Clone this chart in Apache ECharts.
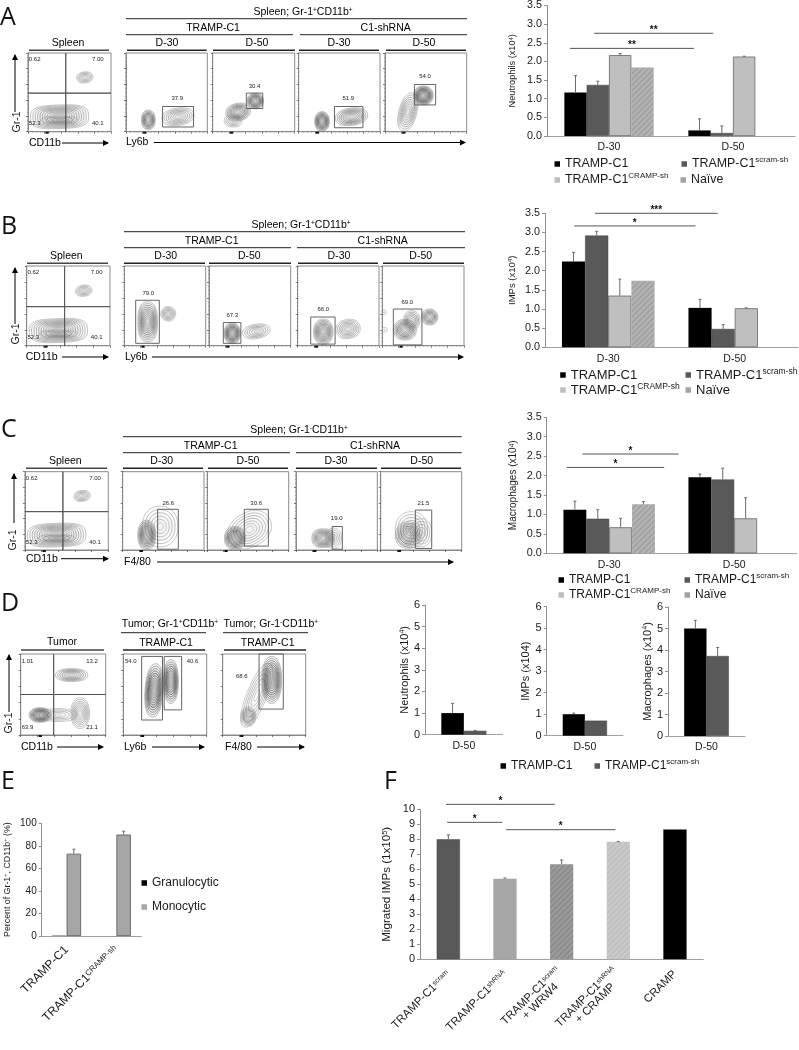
<!DOCTYPE html>
<html><head><meta charset="utf-8">
<style>html,body{margin:0;padding:0;background:#fff}#c{width:799px;height:1050px}</style>
<script src="https://cdn.jsdelivr.net/npm/echarts@6/dist/echarts.min.js"></script>
</head><body><div id="c"></div>
<script>
// ---------- bar chart values ----------
const days = ['D-30', 'D-50'];
const day50 = ['D-50'];
const nTramp = 'TRAMP-C1', nScram = 'TRAMP-C1 scram-sh', nCramp = 'TRAMP-C1 CRAMP-sh', nNaive = 'Naïve';

const aTramp = [1.17, 0.15], aScram = [1.37, 0.08], aCramp = [2.17, 2.13], aNaive = [1.84, null];
const aTrampTop = [1.62, 0.46], aScramTop = [1.47, 0.27], aCrampTop = [2.21, 2.14], aNaiveTop = [1.84, null];
const aBrackets = [[0.185, 1.185, 2.35, '**'], [0.38, 1.34, 2.755, '**']];

const bTramp = [2.24, 1.03], bScram = [2.92, 0.48], bCramp = [1.35, 1.02], bNaive = [1.74, null];
const bTrampTop = [2.48, 1.25], bScramTop = [3.03, 0.59], bCrampTop = [1.78, 1.03], bNaiveTop = [1.74, null];
const bBrackets = [[0.23, 1.19, 3.17, '*'], [0.395, 1.365, 3.5, '***']];

const cTramp = [1.12, 1.96], cScram = [0.89, 1.9], cCramp = [0.67, 0.9], cNaive = [1.26, null];
const cTrampTop = [1.34, 2.04], cScramTop = [1.12, 2.19], cCrampTop = [0.9, 1.43], cNaiveTop = [1.33, null];
const cBrackets = [[0.16, 0.94, 2.21, '*'], [0.285, 1.055, 2.555, '*']];

const d1Tramp = [1.0], d1Scram = [0.18], d1TrampTop = [1.45], d1ScramTop = [0.2];
const d2Tramp = [1.0], d2Scram = [0.7], d2TrampTop = [1.05], d2ScramTop = [0.7];
const d3Tramp = [5.0], d3Scram = [3.72], d3TrampTop = [5.38], d3ScramTop = [4.12];

const eCats = ['{a|TRAMP-C1}', '{a|TRAMP-C1}{s|CRAMP-sh}'];
const eGran = [0.3, null], eMono = [73, 90], eMonoTop = [77, 93], eGranTop = [null, null];

const fCats = ['{a|TRAMP-C1}{s|scram}', '{a|TRAMP-C1}{s|shRNA}', '{a|TRAMP-C1}{s|scram}\n{a|+ WRW4    }', '{a|TRAMP-C1}{s|shRNA}\n{a|+ CRAMP    }', '{a|CRAMP}'];
const fValues = [8, 5.37, 6.33, 7.83, 8.65];
const fTops = [8.3, 5.42, 6.62, 7.85, 8.65];
const fBrackets = [[0.459, 2.38, 10.33, '*'], [0.48, 1.45, 9.13, '*'], [1.52, 3.45, 8.64, '*']];

// ---------- flow panels, in axis units (0-100) ----------
// contour: [cx, cy, rx, ry, rotationDeg, levels, darkness, roundness]
const spleenContours = [[68.5, 69, 10, 7, -8, 6, 0.3], [38, 19, 35, 15, -2, 11, 0.38, 3.2], [38, 15, 22, 5, 0, 4, 0.45]];
const spleenLabels = [[8, 92, '0.62'], [84, 92, '7.00'], [8, 10, '52.3'], [84, 10, '40.1']];
const quadCuts = [[45.5, 45.5, 0, 100], [0, 100, 49, 49]];

const a1Contours = [[27.5, 15, 8.5, 12.5, 0, 8, 0.8], [64, 19, 20, 11, -8, 7, 0.4]];
const a1Gates = [[45, 83, 6, 32]], a1Labels = [[63, 42, '37.9']];
const a2Contours = [[52, 39, 10, 10, 0, 8, 0.9], [31, 25, 15, 11, -10, 8, 0.7], [25, 14, 11, 8, 0, 5, 0.4]];
const a2Gates = [[41, 61, 29.5, 49]], a2Labels = [[51, 58, '30.4']];
const a3Contours = [[28.7, 13, 9, 12.5, 0, 9, 0.85], [65, 19, 20, 11, -8, 8, 0.6]];
const a3Gates = [[44, 79, 5, 32]], a3Labels = [[61, 42, '51.9']];
const a4Contours = [[28, 25, 11, 25, 15, 8, 0.35], [47, 46, 12, 12, 0, 9, 1.05]];
const a4Gates = [[36, 62, 34, 60]], a4Labels = [[49, 70, '54.0']];

const b1Contours = [[28.7, 30, 12, 25, 0, 10, 0.6, 2.6], [54, 40, 9, 9, 20, 6, 0.45]];
const b1Gates = [[14, 43, 3, 57]], b1Labels = [[29.5, 66, '79.0']];
const b2Contours = [[28.5, 15.5, 10, 13, 0, 9, 0.9], [58, 18, 17, 9, -10, 6, 0.4]];
const b2Gates = [[17.5, 39, 3, 29]], b2Labels = [[28.5, 38, '67.3']];
const b3Contours = [[31.5, 17.5, 12, 16, 0, 9, 0.65], [62, 21, 15, 12, -10, 7, 0.4]];
const b3Gates = [[16, 46, 2, 36]], b3Labels = [[31.5, 45.6, '66.0']];
const b4Contours = [[27.7, 20, 14, 13, 0, 8, 0.7], [36, 32, 10, 12, 0, 6, 0.55], [58, 36, 10, 10, 0, 7, 0.7], [3, 20, 3, 3, 0, 2, 0.4], [2, 42, 2.5, 3, 0, 2, 0.4]];
const b4Gates = [[13.5, 48.5, 1, 46]], b4Labels = [[30.6, 55, '69.0']];

const c1Contours = [[46, 30, 22, 26, 0, 6, 0.25], [29.5, 19, 11, 19, 0, 9, 0.75]];
const c1Gates = [[43, 68.4, 1, 52]], c1Labels = [[56, 60, '26.6']];
const c2Contours = [[52, 26, 28, 22, -30, 7, 0.25], [34, 15, 13, 15, 0, 9, 0.75]];
const c2Gates = [[45.5, 75, 5, 52]], c2Labels = [[60, 60, '30.6']];
const c3Contours = [[46, 15, 10, 13, 0, 5, 0.3], [33.6, 15, 14, 12, 0, 9, 0.6, 2.6]];
const c3Gates = [[44.6, 57, 1, 30]], c3Labels = [[50, 40, '19.0']];
const c4Contours = [[50, 22, 13, 18, 0, 5, 0.25], [38, 26, 20, 23, 0, 6, 0.28], [34, 19, 16, 17, 0, 8, 0.55]];
const c4Gates = [[42.8, 63, 2, 51]], c4Labels = [[52.7, 60, '21.5']];

const d1Contours = [[60, 74, 19, 8, 0, 7, 0.5], [44, 24.7, 22, 8, 0, 5, 0.25], [70, 27, 11, 19, 0, 8, 0.3], [23, 24.7, 13, 9, 0, 9, 0.85]];
const d1Labels = [[8, 91, '1.01'], [84, 91, '13.2'], [8, 10, '63.9'], [84, 10, '21.1']];
const d1Cuts = [[38.8, 38.8, 0, 100], [0, 100, 50, 50]];
const d2Contours = [[37, 55, 11, 33, 4, 10, 0.9], [57, 66, 9, 27, 0, 9, 0.9]];
const d2Gates = [[22, 47, 18.5, 97], [49, 70, 31, 97]], d2Labels = [[9, 91, '54.0'], [83, 91, '40.6']];
const d3Contours = [[41, 49, 12, 42, 22, 6, 0.22], [31, 23, 9, 12, 0, 7, 0.5], [59, 68, 12, 29, 0, 10, 0.8]];
const d3Gates = [[43.8, 73, 32, 100]], d3Labels = [[23, 72, '68.6']];

// ---------- helpers ----------
const FONT = '"Liberation Sans", Arial, sans-serif';
const TXT = '#1a1a1a';
const option = { animation: false, backgroundColor: '#fff', grid: [], xAxis: [], yAxis: [], series: [], legend: [], graphic: { elements: [] } };
const hatch = (color, alpha) => ({ color, borderWidth: 0, decal: { symbol: 'rect', rotation: -Math.PI / 4, dashArrayX: [1, 0], dashArrayY: [2, 2], symbolSize: 1, color: `rgba(255,255,255,${alpha})` } });
const styles = {
  black: { color: '#000', borderWidth: 0 },
  dark: { color: '#595959', borderColor: '#444', borderWidth: 0.5 },
  light: { color: '#bfbfbf', borderColor: '#666', borderWidth: 0.8 },
  mid: { color: '#a6a6a6', borderColor: '#555', borderWidth: 0.8 },
  midPlain: { color: '#a6a6a6', borderWidth: 0 },
  hatch: hatch('#a2a2a2', 0.2),
  hatchDark: hatch('#8c8c8c', 0.14),
  hatchLight: hatch('#c0c0c0', 0.16)
};
const rich = (size, sup) => ({ a: { fontSize: size, fontFamily: FONT, color: TXT }, s: { fontSize: sup, fontFamily: FONT, color: TXT, verticalAlign: 'top' } });

function barChart(o) {
  const g = option.grid.length;
  option.grid.push({ left: o.x0, top: o.y0, width: o.x1 - o.x0, height: o.y1 - o.y0 });
  option.xAxis.push({
    type: 'category', gridIndex: g, data: o.cats,
    axisLine: { lineStyle: { color: '#a0a0a0', width: 1 } }, axisTick: { show: false },
    axisLabel: Object.assign({ fontSize: o.catSize || 10.5, fontFamily: FONT, color: TXT, margin: 6, interval: 0 }, o.catLabel || {})
  });
  const xv = option.xAxis.length;
  option.xAxis.push({ type: 'value', gridIndex: g, show: false, min: 0, max: o.cats.length });
  option.yAxis.push({
    type: 'value', gridIndex: g, min: 0, max: o.max, interval: o.step, splitLine: { show: false },
    axisLine: { show: true, lineStyle: { color: '#909090' } }, axisTick: { show: true, length: 3, lineStyle: { color: '#909090' } },
    axisLabel: { fontSize: o.labelSize || 10.8, fontFamily: FONT, color: TXT, margin: 5, formatter: o.fixed ? (v => v.toFixed(1)) : (v => String(v)) },
    name: o.name, nameLocation: 'middle', nameRotate: 90, nameGap: o.nameGap,
    nameTextStyle: { rich: rich(o.nameSize || 10, (o.nameSize || 10) * 0.65) }
  });
  const y = option.yAxis.length - 1, xc = xv - 1;
  const n = o.series.length;
  o.series.forEach(s => {
    option.series.push({ type: 'bar', name: s.name, xAxisIndex: xc, yAxisIndex: y, data: s.data, barWidth: o.bw * 100 + '%', barGap: 0, itemStyle: s.style, silent: true });
  });
  const errs = [];
  o.series.forEach((s, i) => s.top.forEach((t, j) => {
    const raw = s.data[j], v = raw != null && typeof raw === 'object' ? raw.value : raw;
    if (t != null && v != null && t > v) errs.push([j + 0.5 + (i - (n - 1) / 2) * o.bw, v, t]);
  }));
  if (errs.length) option.series.push({
    type: 'custom', xAxisIndex: xv, yAxisIndex: y, data: errs, silent: true, z: 4,
    renderItem(p, api) {
      const d = errs[p.dataIndex], a = api.coord([d[0], d[1]]), b = api.coord([d[0], d[2]]);
      return { type: 'group', children: [
        { type: 'line', shape: { x1: a[0], y1: a[1], x2: b[0], y2: b[1] }, style: { stroke: '#6a6a6a', lineWidth: 1 } },
        { type: 'line', shape: { x1: b[0] - 1.5, y1: b[1], x2: b[0] + 1.5, y2: b[1] }, style: { stroke: '#6a6a6a', lineWidth: 1 } }
      ] };
    }
  });
  if (o.brackets) option.series.push({
    type: 'custom', xAxisIndex: xv, yAxisIndex: y, data: o.brackets, silent: true, z: 5,
    renderItem(p, api) {
      const d = o.brackets[p.dataIndex], a = api.coord([d[0], d[2]]), b = api.coord([d[1], d[2]]);
      return { type: 'group', children: [
        { type: 'line', shape: { x1: a[0], y1: a[1], x2: b[0], y2: b[1] }, style: { stroke: '#555', lineWidth: 1 } },
        { type: 'text', style: { x: (a[0] + b[0]) / 2, y: a[1] - 3, text: d[3], align: 'center', verticalAlign: 'middle', fontSize: 10, fontWeight: 'bold', fontFamily: FONT, fill: '#111' } }
      ] };
    }
  });
}

function flowPanel(x0, x1, y0, y1, contours, gates, labels) {
  const g = option.grid.length;
  option.grid.push({ left: x0, top: y0, width: x1 - x0, height: y1 - y0, show: true, borderColor: '#8a8a8a', borderWidth: 1, backgroundColor: '#fff' });
  const ax = () => ({
    type: 'value', gridIndex: g, min: 0, max: 100, interval: 20, splitLine: { show: false }, axisLabel: { show: false },
    axisLine: { show: true, lineStyle: { color: '#8a8a8a', width: 1 } },
    axisTick: { show: true, length: 2, inside: false, lineStyle: { color: '#444', width: 0.7 } },
    minorTick: { show: true, splitNumber: 4, length: 1, lineStyle: { color: '#777', width: 0.5 } }
  });
  option.xAxis.push(ax());
  const xi = option.xAxis.length - 1;
  option.yAxis.push(ax());
  const yi = option.yAxis.length - 1;
  option.series.push({
    type: 'custom', xAxisIndex: xi, yAxisIndex: yi, data: contours.map(c => [c[0], c[1]]), silent: true, z: 2,
    renderItem(p, api) {
      const d = contours[p.dataIndex], c = api.coord([d[0], d[1]]);
      const rx = api.coord([d[0] + d[2], d[1]])[0] - c[0], ry = c[1] - api.coord([d[0], d[1] + d[3]])[1];
      const rot = d[4] * Math.PI / 180, n = d[5], dark = d[6], e = 2 / (d[7] || 2.2), kids = [];
      const pow = (v) => Math.sign(v) * Math.pow(Math.abs(v), e);
      for (let k = 0; k < n; k++) {
        const t = n > 1 ? k / (n - 1) : 0, f = 1 - 0.82 * t, pts = [];
        for (let i = 0; i < 48; i++) {
          const a = i / 48 * Math.PI * 2, ex = rx * f * pow(Math.cos(a)), ey = ry * f * pow(Math.sin(a));
          pts.push([c[0] + ex * Math.cos(rot) - ey * Math.sin(rot), c[1] + ex * Math.sin(rot) + ey * Math.cos(rot)]);
        }
        const inner = 1 - Math.abs(t - 0.45) * 1.6;
        const v = Math.round(Math.max(25, 175 - 150 * dark * Math.max(0.1, inner)));
        kids.push({ type: 'polygon', shape: { points: pts }, style: { stroke: `rgb(${v},${v},${v})`, lineWidth: 0.6, fill: `rgba(70,70,70,${0.04 * dark})` } });
      }
      return { type: 'group', children: kids };
    }
  });
  if (gates && gates.length) option.series.push({
    type: 'custom', xAxisIndex: xi, yAxisIndex: yi, data: gates, silent: true, z: 3,
    renderItem(p, api) {
      const d = gates[p.dataIndex], a = api.coord([d[0], d[3]]), b = api.coord([d[1], d[2]]);
      return { type: 'rect', shape: { x: a[0], y: a[1], width: b[0] - a[0], height: b[1] - a[1] }, style: { stroke: '#555', fill: 'none', lineWidth: 0.9 } };
    }
  });
  option.series.push({
    type: 'custom', xAxisIndex: xi, yAxisIndex: yi, data: labels.map(l => [l[0], l[1]]), silent: true, z: 4,
    renderItem(p, api) {
      const d = labels[p.dataIndex], c = api.coord([d[0], d[1]]);
      return { type: 'text', style: { x: c[0], y: c[1], text: d[2], align: 'center', verticalAlign: 'middle', fontSize: 6, fontFamily: FONT, fill: '#222' } };
    }
  });
  // the instrument's zero marker on the lower axis
  option.series.push({
    type: 'custom', xAxisIndex: xi, yAxisIndex: yi, data: [[21, 25]], silent: true, z: 4,
    renderItem(p, api) {
      const a = api.coord([21, 0]), b = api.coord([25, 0]);
      return { type: 'line', shape: { x1: a[0], y1: a[1] + 1, x2: b[0], y2: b[1] + 1 }, style: { stroke: '#111', lineWidth: 2 } };
    }
  });
}

const G = option.graphic.elements;
function text(x, y, str, size, align) {
  G.push({ type: 'text', silent: true, style: { x, y, text: str, rich: rich(size || 10.5, (size || 10.5) * 0.62), align: align || 'center', verticalAlign: 'middle' } });
}
function plain(x, y, str) { text(x, y, '{a|' + str + '}'); }
function rule(x1, x2, y, w, c) { G.push({ type: 'line', silent: true, shape: { x1, y1: y, x2, y2: y }, style: { stroke: c || '#222', lineWidth: w || 1 } }); }
function arrowH(x1, x2, y) {
  rule(x1, x2, y, 1, '#000');
  G.push({ type: 'polygon', silent: true, shape: { points: [[x2 + 1, y], [x2 - 5, y - 3], [x2 - 5, y + 3]] }, style: { fill: '#000' } });
}
function arrowV(x, yBottom, yTop) {
  G.push({ type: 'line', silent: true, shape: { x1: x, y1: yBottom, x2: x, y2: yTop }, style: { stroke: '#000', lineWidth: 1 } });
  G.push({ type: 'polygon', silent: true, shape: { points: [[x, yTop - 1], [x - 3, yTop + 5], [x + 3, yTop + 5]] }, style: { fill: '#000' } });
}
function rotated(x, y, str) {
  G.push({ type: 'text', silent: true, x, y, rotation: Math.PI / 2, style: { x: 0, y: 0, text: str, align: 'center', verticalAlign: 'middle', fontSize: 10.5, fontFamily: FONT, fill: TXT } });
}
function letter(x, y, s) {
  G.push({ type: 'text', silent: true, style: { x, y, text: s, align: 'left', verticalAlign: 'middle', fontSize: 25, fontFamily: '"Open Sans", sans-serif', fill: '#111' } });
}
function legendItem(textX, rowY, name, size, sup) {
  const shown = { [nTramp]: '{a|TRAMP-C1}', [nScram]: '{a|TRAMP-C1}{s|scram-sh}', [nCramp]: '{a|TRAMP-C1}{s|CRAMP-sh}', [nNaive]: '{a|Naïve}', Granulocytic: '{a|Granulocytic}', Monocytic: '{a|Monocytic}' }[name];
  option.legend.push({
    data: [{ name, icon: 'rect', itemStyle: { borderWidth: 0, decal: 'none' } }], selectedMode: false, left: textX - 10.5, top: rowY - 8, padding: 0, itemWidth: 5.5, itemHeight: 5.5,
    formatter: () => shown, textStyle: { rich: rich(size, sup), lineHeight: 16 }
  });
}

// ---------- panel A-C columns ----------
const four = (t, s, c, n, tt, st, ct, nt) => [
  { name: nTramp, data: t, top: tt, style: styles.black }, { name: nScram, data: s, top: st, style: styles.dark },
  { name: nCramp, data: c, top: ct, style: styles.light }, { name: nNaive, data: n, top: nt, style: styles.hatch }];

barChart({ x0: 547, x1: 795, y0: 3, y1: 136, cats: days, max: 3.5, step: 0.5, fixed: true, bw: 0.18, nameSize: 9.2, nameGap: 30,
  name: '{a|Neutrophils (x10}{s|4}{a|)}', series: four(aTramp, aScram, aCramp, aNaive, aTrampTop, aScramTop, aCrampTop, aNaiveTop), brackets: aBrackets });
barChart({ x0: 545, x1: 798, y0: 213.3, y1: 347.3, cats: days, max: 3.5, step: 0.5, fixed: true, bw: 0.183, nameSize: 9.5, nameGap: 28,
  name: '{a|IMPs (x10}{s|4}{a|)}', series: four(bTramp, bScram, bCramp, bNaive, bTrampTop, bScramTop, bCrampTop, bNaiveTop), brackets: bBrackets });
barChart({ x0: 546.7, x1: 796.7, y0: 417.3, y1: 553.3, cats: days, max: 3.5, step: 0.5, fixed: true, bw: 0.183, nameSize: 10, nameGap: 28,
  name: '{a|Macrophages (x10}{s|4}{a|)}', series: four(cTramp, cScram, cCramp, cNaive, cTrampTop, cScramTop, cCrampTop, cNaiveTop), brackets: cBrackets });

const two = (t, s, tt, st) => [{ name: nTramp, data: t, top: tt, style: styles.black }, { name: nScram, data: s, top: st, style: styles.dark }];
barChart({ x0: 425, x1: 502.7, y0: 605, y1: 734.7, cats: day50, max: 6, step: 1, bw: 0.29, nameSize: 11, nameGap: 15, labelSize: 11,
  name: '{a|Neutrophils (x10}{s|4}{a|)}', series: two(d1Tramp, d1Scram, d1TrampTop, d1ScramTop) });
barChart({ x0: 546.7, x1: 623, y0: 606.7, y1: 735.7, cats: day50, max: 6, step: 1, bw: 0.29, nameSize: 11, nameGap: 15, labelSize: 11,
  name: '{a|IMPs (x104)}', series: two(d2Tramp, d2Scram, d2TrampTop, d2ScramTop) });
barChart({ x0: 668, x1: 745, y0: 607, y1: 736, cats: day50, max: 6, step: 1, bw: 0.29, nameSize: 11, nameGap: 15, labelSize: 11,
  name: '{a|Macrophages (x10}{s|4}{a|)}', series: two(d3Tramp, d3Scram, d3TrampTop, d3ScramTop) });

barChart({ x0: 41.7, x1: 141.3, y0: 823.3, y1: 936, cats: eCats, max: 100, step: 20, bw: 0.29, labelSize: 10, nameSize: 8.8, nameGap: 30,
  name: '{a|Percent of Gr-1}{s|+}{a|, CD11b}{s|+}{a| (%)}',
  catLabel: { rotate: 45, align: 'right', verticalAlign: 'middle', margin: 12, rich: rich(12, 8) },
  series: [{ name: 'Granulocytic', data: eGran, top: eGranTop, style: styles.black }, { name: 'Monocytic', data: eMono, top: eMonoTop, style: styles.mid }] });

const fStyles = [styles.dark, styles.midPlain, styles.hatchDark, styles.hatchLight, styles.black];
barChart({ x0: 420, x1: 703.3, y0: 809.3, y1: 959.3, cats: fCats, max: 10, step: 1, bw: 0.41, labelSize: 11, nameSize: 11.6, nameGap: 27,
  name: '{a|Migrated IMPs (1x10}{s|5}{a|)}',
  catLabel: { rotate: 45, align: 'right', verticalAlign: 'middle', margin: 13, rich: rich(11.4, 7) },
  series: [{ name: 'fBars', data: fValues.map((v, i) => ({ value: v, itemStyle: fStyles[i] })), top: fTops, style: {} }], brackets: fBrackets });

// ---------- flow rows ----------
const spleenQuad = (x0, x1, y0, y1) => flowPanel(x0, x1, y0, y1, spleenContours, quadCuts, spleenLabels);
spleenQuad(28, 111, 53, 131.7);
flowPanel(126, 207.3, 53, 131.7, a1Contours, a1Gates, a1Labels);
flowPanel(212.7, 294.7, 53, 131.7, a2Contours, a2Gates, a2Labels);
flowPanel(298.7, 380, 53, 131.7, a3Contours, a3Gates, a3Labels);
flowPanel(385, 466.7, 53, 131.7, a4Contours, a4Gates, a4Labels);

spleenQuad(26.7, 110, 266, 345.7);
flowPanel(124.3, 205.7, 266, 345.7, b1Contours, b1Gates, b1Labels);
flowPanel(209, 290.7, 266, 345.7, b2Contours, b2Gates, b2Labels);
flowPanel(297.7, 379, 266, 345.7, b3Contours, b3Gates, b3Labels);
flowPanel(382.3, 464, 266, 345.7, b4Contours, b4Gates, b4Labels);

spleenQuad(25, 108.3, 471.7, 550);
flowPanel(122.7, 204, 471.7, 550, c1Contours, c1Gates, c1Labels);
flowPanel(207.3, 288.7, 471.7, 550, c2Contours, c2Gates, c2Labels);
flowPanel(296, 377.3, 471.7, 550, c3Contours, c3Gates, c3Labels);
flowPanel(380.7, 461.7, 471.7, 550, c4Contours, c4Gates, c4Labels);

flowPanel(20.7, 105.7, 654, 735, d1Contours, d1Cuts, d1Labels);
flowPanel(123.3, 206.7, 654, 735, d2Contours, d2Gates, d2Labels);
flowPanel(222.7, 305.7, 654, 735, d3Contours, d3Gates, d3Labels);

// ---------- headers, arrows, letters ----------
function header(o) {
  text(o.topX, o.y0, o.title);
  rule(o.topL, o.topR, o.y0 + 6.7, 1);
  plain(o.tX, o.y0 + 16.5, 'TRAMP-C1'); rule(o.topL, o.tR, o.y0 + 22.7, 1);
  plain(o.sX, o.y0 + 16.5, 'C1-shRNA'); rule(o.sL, o.topR, o.y0 + 22.7, 1);
  o.days.forEach(d => { plain(d[0], o.y0 + 31, d[1]); rule(d[2], d[3], o.y0 + 38.3, 1.6); });
  plain(o.sp[0], o.y0 + 31, 'Spleen'); rule(o.sp[1], o.sp[2], o.y0 + 38.3, 1.6, '#444');
}
header({ y0: 12, title: '{a|Spleen; Gr-1}{s|+}{a|CD11b}{s|+}', topX: 303, topL: 126, topR: 467, tX: 213, tR: 293, sX: 385.7, sL: 300,
  days: [[167, 'D-30', 127, 206.7], [257, 'D-50', 213, 295], [339, 'D-30', 299, 379], [424, 'D-50', 386, 466]], sp: [68, 29, 109] });
header({ y0: 225, title: '{a|Spleen; Gr-1}{s|+}{a|CD11b}{s|+}', topX: 301, topL: 124, topR: 465, tX: 211.7, tR: 291, sX: 382.7, sL: 297,
  days: [[165.7, 'D-30', 124, 205], [249.3, 'D-50', 209, 291], [339, 'D-30', 298, 378], [420.7, 'D-50', 383, 464]], sp: [66.3, 27, 108] });
header({ y0: 430, title: '{a|Spleen; Gr-1}{s|-}{a|CD11b}{s|+}', topX: 299, topL: 123, topR: 461.7, tX: 210.7, tR: 290, sX: 375, sL: 296,
  days: [[161.7, 'D-30', 123, 203], [248, 'D-50', 208, 288], [336, 'D-30', 296, 377], [421.7, 'D-50', 381, 461]], sp: [65.3, 26, 107] });

const leftText = (x, y, s) => text(x, y, '{a|' + s + '}', 10.5, 'left');
leftText(29, 143, 'CD11b'); arrowH(62, 108, 143); leftText(126, 142.5, 'Ly6b'); arrowH(154, 465, 142.5); rotated(17, 122, 'Gr-1'); arrowV(15, 112, 55);
leftText(25.7, 357, 'CD11b'); arrowH(62, 108, 357); leftText(125, 357, 'Ly6b'); arrowH(152, 463, 357); rotated(16, 334, 'Gr-1'); arrowV(15, 324, 268);
leftText(26, 558.7, 'CD11b'); arrowH(61, 108, 558.7); leftText(124, 562, 'F4/80'); arrowH(157, 453, 562); rotated(13.5, 540, 'Gr-1'); arrowV(14, 523, 474);

plain(62, 642, 'Tumor'); rule(21, 104, 650, 1.6, '#444');
text(170, 624, '{a|Tumor; Gr-1}{s|+}{a|CD11b}{s|+}'); rule(121, 206, 632.7, 1);
plain(166, 642.7, 'TRAMP-C1'); rule(123, 205, 650, 1.6);
text(270.7, 624, '{a|Tumor; Gr-1}{s|-}{a|CD11b}{s|+}'); rule(223, 308, 632.7, 1);
plain(267.7, 642.7, 'TRAMP-C1'); rule(224, 306, 650, 1.6);
leftText(21, 747, 'CD11b'); arrowH(57, 103, 747); leftText(124, 747, 'Ly6b'); arrowH(152, 204, 747); leftText(225, 747, 'F4/80'); arrowH(257, 304, 747);
rotated(9.5, 723, 'Gr-1'); arrowV(9, 712, 655);

letter(0, 18, 'A'); letter(1, 227, 'B'); letter(1, 430, 'C'); letter(1, 604, 'D'); letter(1, 782, 'E'); letter(384, 782, 'F');

// ---------- legends ----------
legendItem(565, 164, nTramp, 12.4, 8); legendItem(692, 164, nScram, 12.4, 8); legendItem(565, 180, nCramp, 12.4, 8); legendItem(691, 180, nNaive, 12.4, 8);
legendItem(570.7, 375, nTramp, 13, 8.5); legendItem(696, 375, nScram, 13, 8.5); legendItem(570.7, 390, nCramp, 13, 8.5); legendItem(696, 390, nNaive, 13, 8.5);
legendItem(569, 580, nTramp, 12, 8); legendItem(695, 580, nScram, 12, 8); legendItem(569, 595, nCramp, 12, 8); legendItem(695, 595, nNaive, 12, 8);
legendItem(511, 766, nTramp, 12, 8); legendItem(605, 766, nScram, 12, 8);
legendItem(152, 883, 'Granulocytic', 12, 8); legendItem(152, 907, 'Monocytic', 12, 8);

const chart = echarts.init(document.getElementById('c'), null, { renderer: 'canvas' });
chart.setOption(option);
</script></body></html>
